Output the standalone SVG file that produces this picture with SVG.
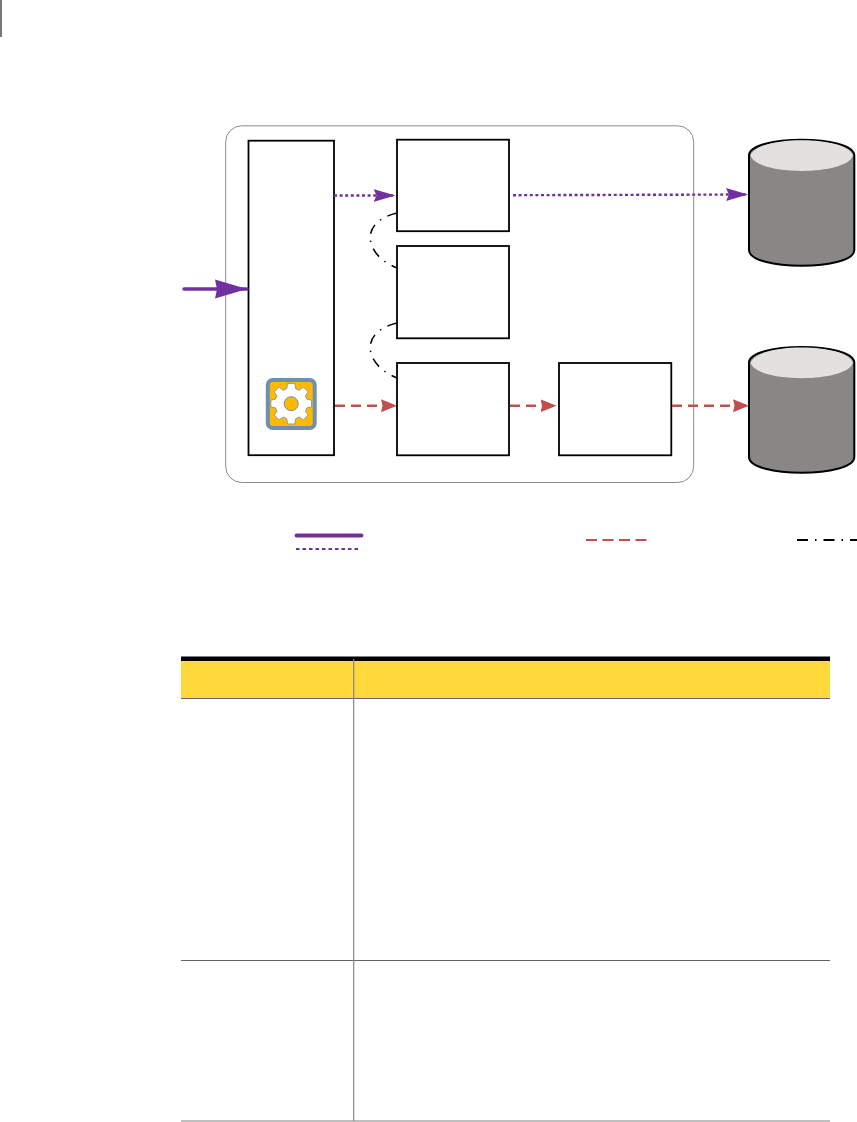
<svg xmlns="http://www.w3.org/2000/svg" width="857" height="1122" viewBox="0 0 857 1122">
<style>
.box{fill:#fff;stroke:#000;stroke-width:1.8}
.cyl{fill:#898785;stroke:#000;stroke-width:2}
.top{fill:#e2e1df}
.pur{fill:none;stroke:#7030a0;stroke-width:2.400;stroke-dasharray:3 2.600}
.red{fill:none;stroke:#c0504d;stroke-width:2.400;stroke-dasharray:10 6}
.da{fill:none;stroke:#000;stroke-width:1.500;stroke-dasharray:10 7 1.400 7}
.rule{stroke:#666;stroke-width:1;fill:none}
</style>
<defs>
<marker id="ap" markerUnits="userSpaceOnUse" markerWidth="24" markerHeight="16" refX="22" refY="8" orient="auto"><path d="M0 1.500L22 8L0 14.500L3 8Z" fill="#7030a0"/></marker>
<marker id="apb" markerUnits="userSpaceOnUse" markerWidth="34" markerHeight="22" refX="32" refY="11" orient="auto"><path d="M0 1.500L32 11L0 20.500L2 11Z" fill="#7030a0"/></marker>
<marker id="ar" markerUnits="userSpaceOnUse" markerWidth="18" markerHeight="16" refX="16" refY="8" orient="auto"><path d="M0 1.500L16 8L0 14.500L1.500 8Z" fill="#c0504d"/></marker>
</defs>
<rect id="margin" x="0" y="0" width="2" height="37" fill="#777"/>
<g id="container"><rect x="225.700" y="125.800" width="468" height="356.700" rx="16" fill="#fff" stroke="#8a8a8a" stroke-width="1"/></g>
<g id="nodeA"><rect class="box" x="248.500" y="140.700" width="85.500" height="314.500"/></g>
<g id="nodeB"><rect class="box" x="397" y="139.700" width="112" height="91.500"/></g>
<g id="nodeC"><rect class="box" x="397" y="246" width="112" height="92.300"/></g>
<g id="nodeD"><rect class="box" x="397" y="363" width="112" height="92.300"/></g>
<g id="nodeE"><rect class="box" x="559" y="363" width="112.300" height="92.300"/></g>
<g id="db1"><path class="cyl" d="M749 155.500C749 134.500 854.300 134.500 854.300 155.500V250C854.300 271 749 271 749 250Z"/><path class="top" d="M750.500 155.500C757 135 847 135 853 155.500C847 176 757 176 750.500 155.500Z"/></g>
<g id="db2"><path class="cyl" d="M749 362.800C749 341.800 854.300 341.800 854.300 362.800V457C854.300 478 749 478 749 457Z"/><path class="top" d="M750.500 362.800C757 342.300 847 342.300 853 362.800C847 383.300 757 383.300 750.500 362.800Z"/></g>
<g id="gear">
<rect x="267.800" y="380" width="46.900" height="48" rx="5" fill="#ffb900" stroke="#6e8fad" stroke-width="4"/>
<path d="M286.500 384H295.500L296.500 390.500L301 392.500L306 388.500L312 394.500L308.500 399.500L310.500 403.500L316 404.500V413L310.500 414L308.500 418.500L312 423L306 429L301 425.500L296.500 427.500L295.500 434H286.500L285.500 427.500L281 425.500L276 429L270 423L273.500 418.500L271.500 414L266 413V404.500L271.500 403.500L273.500 399.500L270 394.500L276 388.500L281 392.500L285.500 390.500Z" transform="translate(291.200 403.700) scale(.81) translate(-291 -409)" fill="#fff" stroke="#6e8fad" stroke-width="1"/>
<circle cx="291.200" cy="403.700" r="7" fill="#ffb900" stroke="#6e8fad" stroke-width="1"/>
</g>
<g id="connectors">
<path d="M184 289H247" fill="none" stroke="#7030a0" stroke-width="3.500" stroke-linecap="round" marker-end="url(#apb)"/>
<path class="pur" d="M334 195.500H395.500" marker-end="url(#ap)"/>
<path class="pur" d="M513 195.200L748 194.500" marker-end="url(#ap)"/>
<path class="red" d="M335 405.800H397" marker-end="url(#ar)"/>
<path class="red" d="M510 405.800H556.500" marker-end="url(#ar)"/>
<path class="red" d="M672 405.800H749" marker-end="url(#ar)"/>
<path class="da" d="M397 213C375 218 366 232 372 246C376 256 385 263 397 268"/>
<path class="da" d="M397 323C375 328 366 342 372 356C376 366 385 373 397 378"/>
</g>
<g id="legend">
<path d="M296.500 535.500H361.500" stroke="#7030a0" stroke-width="3.800" stroke-linecap="round"/>
<path d="M296 549H359" stroke="#7030a0" stroke-width="1.800" stroke-dasharray="3.500 3"/>
<path d="M586 540H649" stroke="#c0504d" stroke-width="2" stroke-dasharray="11 5.500"/>
<path d="M797 540H857" stroke="#000" stroke-width="1.800" stroke-dasharray="11 7 1.500 7"/>
</g>
<g id="table">
<rect x="181" y="661" width="649" height="37" fill="#ffd93b"/>
<rect x="181" y="656.500" width="649" height="4.500" fill="#000"/>
<path class="rule" d="M181 698.500H830M181 960.500H830"/>
<path d="M181 1121H830" stroke="#aaa" stroke-width="1.500"/>
<path d="M353.700 659V1121" stroke="#888" stroke-width="1.200"/>
</g>
</svg>
